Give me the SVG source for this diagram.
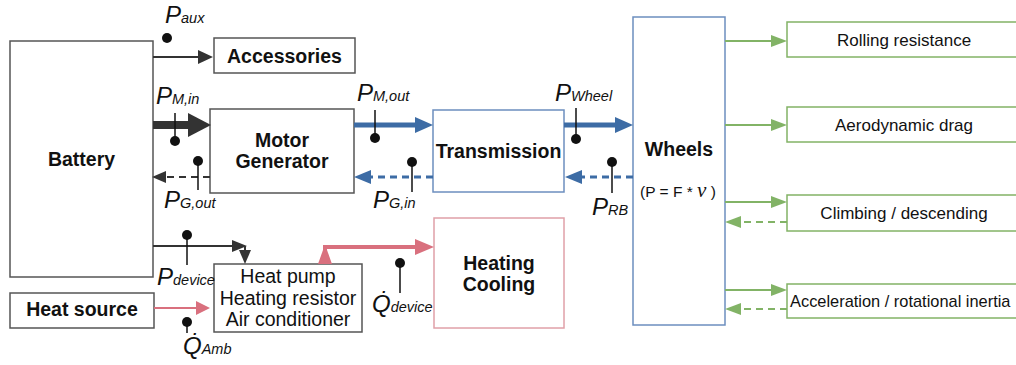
<svg xmlns="http://www.w3.org/2000/svg" width="1016" height="365" viewBox="0 0 1016 365">
<style>
text{font-family:"Liberation Sans",Arial,sans-serif;fill:#111}
.box{fill:#fff;stroke:#555;stroke-width:1.5}
.bbox{fill:#fff;stroke:#6c8ebf;stroke-width:1.5}
.gbox{fill:#fff;stroke:#82b366;stroke-width:1.5}
.pbox{fill:#fff;stroke:#e0a0a8;stroke-width:1.5}
.t{font-size:19.5px;font-weight:bold;text-anchor:middle}
.r{font-size:19.5px;text-anchor:middle}
.g{font-size:17px;text-anchor:middle}
.lbl{font-size:24px;font-style:italic}
.sub{font-size:14.5px;font-style:italic}
.k{stroke:#333;fill:none}
.kf{fill:#333}
.b{stroke:#3d6ca5;fill:none}
.bf{fill:#3d6ca5}
.gr{stroke:#82b366;fill:none;stroke-width:2}
.gf{fill:#82b366}
.p{stroke:#d9707e;fill:none}
.pf{fill:#d9707e}
.d{stroke-dasharray:7 5}
.pin{stroke:#111;stroke-width:1.5}
.dot{fill:#111}
</style>
<g id="battery"><rect class="box" x="10" y="41" width="143" height="236"/><text class="t" x="81.5" y="166">Battery</text></g>
<g id="accessories"><rect class="box" x="214" y="38" width="141" height="35"/><text class="t" x="284.5" y="63">Accessories</text></g>
<g id="motor-generator"><rect class="box" x="210" y="109" width="144" height="84"/><text class="t" x="282" y="147">Motor</text><text class="t" x="282" y="168">Generator</text></g>
<g id="transmission"><rect class="bbox" x="433" y="110" width="131" height="82"/><text class="t" x="498.5" y="158">Transmission</text></g>
<g id="wheels"><rect class="bbox" x="633" y="17" width="92" height="308"/><text class="t" x="679" y="156">Wheels</text><text x="678" y="197" font-size="15.5" text-anchor="middle">(P = F * <tspan font-family="Liberation Serif" font-style="italic" font-size="21">ν</tspan> )</text></g>
<g id="rolling"><rect class="gbox" x="787" y="22" width="236" height="35"/><text class="g" x="904" y="46">Rolling resistance</text></g>
<g id="aero"><rect class="gbox" x="787" y="107" width="236" height="35"/><text class="g" x="904" y="131">Aerodynamic drag</text></g>
<g id="climbing"><rect class="gbox" x="787" y="195" width="236" height="36"/><text class="g" x="904" y="219">Climbing / descending</text></g>
<g id="acceleration"><rect class="gbox" x="787" y="284" width="236" height="34"/><text x="790" y="307" font-size="16.4">Acceleration / rotational inertia</text></g>
<g id="heat-source"><rect class="box" x="10" y="293" width="144" height="35"/><text class="t" x="82" y="316">Heat source</text></g>
<g id="heat-pump"><rect class="box" x="214" y="264" width="148" height="68"/><text class="r" x="288" y="283">Heat pump</text><text class="r" x="288" y="305">Heating resistor</text><text class="r" x="288" y="326">Air conditioner</text></g>
<g id="heating-cooling"><rect class="pbox" x="434" y="218" width="130" height="110"/><text class="t" x="499" y="270">Heating</text><text class="t" x="499" y="291">Cooling</text></g>
<g id="connectors">
<line class="k" x1="153" y1="57" x2="199" y2="57" stroke-width="2"/><polygon class="kf" points="198,50 213,57 198,64"/>
<line class="k" x1="153" y1="125" x2="190" y2="125" stroke-width="8"/><polygon class="kf" points="188,113 211,125 188,137"/>
<line class="k d" x1="210" y1="177" x2="165" y2="177" stroke-width="2"/><polygon class="kf" points="166,171 152,177 166,183"/>
<line class="b" x1="354" y1="125" x2="416" y2="125" stroke-width="5"/><polygon class="bf" points="415,117 433,125 415,133"/>
<line class="b d" x1="433" y1="177" x2="370" y2="177" stroke-width="3"/><polygon class="bf" points="371,170 354,177 371,184"/>
<line class="b" x1="564" y1="125" x2="616" y2="125" stroke-width="5"/><polygon class="bf" points="615,117 633,125 615,133"/>
<line class="b d" x1="633" y1="177" x2="581" y2="177" stroke-width="3"/><polygon class="bf" points="582,170 565,177 582,184"/>
<line class="gr" x1="725" y1="41" x2="772" y2="41"/><polygon class="gf" points="771,35 787,41 771,47"/>
<line class="gr" x1="725" y1="125" x2="772" y2="125"/><polygon class="gf" points="771,119 787,125 771,131"/>
<line class="gr" x1="725" y1="202" x2="772" y2="202"/><polygon class="gf" points="771,196 787,202 771,208"/>
<line class="gr d" x1="787" y1="222" x2="740" y2="222"/><polygon class="gf" points="741,216 725,222 741,228"/>
<line class="gr" x1="725" y1="290" x2="772" y2="290"/><polygon class="gf" points="771,284 787,290 771,296"/>
<line class="gr d" x1="787" y1="309" x2="740" y2="309"/><polygon class="gf" points="741,303 725,309 741,315"/>
<line class="k" x1="153" y1="246" x2="233" y2="246" stroke-width="2"/><polygon class="kf" points="232,240 247,246 232,252"/>
<line class="k" x1="245" y1="246" x2="245" y2="252" stroke-width="2"/><polygon class="kf" points="239,250 245,264 251,250"/>
<line class="p" x1="154" y1="308" x2="197" y2="308" stroke-width="2"/><polygon class="pf" points="196,301 210,308 196,315"/>
<polyline class="p" points="325,258 325,247 416,247" stroke-width="4"/><polygon class="pf" points="318,264 332,264 327,250 323,250"/><polygon class="pf" points="415,239 434,247 415,255"/>
</g>
<g id="labels">
<circle class="dot" cx="167" cy="38" r="5"/>
<text class="lbl" x="165" y="23">P<tspan class="sub">aux</tspan></text>
<line class="pin" x1="175" y1="113" x2="175" y2="141"/><circle class="dot" cx="175" cy="141" r="5"/>
<text class="lbl" x="156" y="104">P<tspan class="sub">M,in</tspan></text>
<line class="pin" x1="198" y1="161" x2="198" y2="190"/><circle class="dot" cx="198" cy="161" r="5"/>
<text class="lbl" x="164" y="208">P<tspan class="sub">G,out</tspan></text>
<line class="pin" x1="375" y1="110" x2="375" y2="138"/><circle class="dot" cx="375" cy="138" r="5"/>
<text class="lbl" x="357" y="101">P<tspan class="sub">M,out</tspan></text>
<line class="pin" x1="412" y1="162" x2="412" y2="192"/><circle class="dot" cx="412" cy="162" r="5"/>
<text class="lbl" x="373" y="208">P<tspan class="sub">G,in</tspan></text>
<line class="pin" x1="576" y1="108" x2="576" y2="139"/><circle class="dot" cx="576" cy="139" r="5"/>
<text class="lbl" x="555" y="101">P<tspan class="sub">Wheel</tspan></text>
<line class="pin" x1="612" y1="162" x2="612" y2="193"/><circle class="dot" cx="612" cy="162" r="5"/>
<text class="lbl" x="592" y="215">P<tspan class="sub">RB</tspan></text>
<line class="pin" x1="187" y1="235" x2="187" y2="265"/><circle class="dot" cx="187" cy="235" r="5"/>
<text class="lbl" x="157" y="285">P<tspan class="sub">device</tspan></text>
<line class="pin" x1="187" y1="322" x2="187" y2="333"/><circle class="dot" cx="187" cy="322" r="5"/>
<text class="lbl" x="183" y="354">Q̇<tspan class="sub">Amb</tspan></text>
<line class="pin" x1="400" y1="263" x2="400" y2="293"/><circle class="dot" cx="400" cy="263" r="5"/>
<text class="lbl" x="372" y="312">Q̇<tspan class="sub">device</tspan></text>
</g>
</svg>
